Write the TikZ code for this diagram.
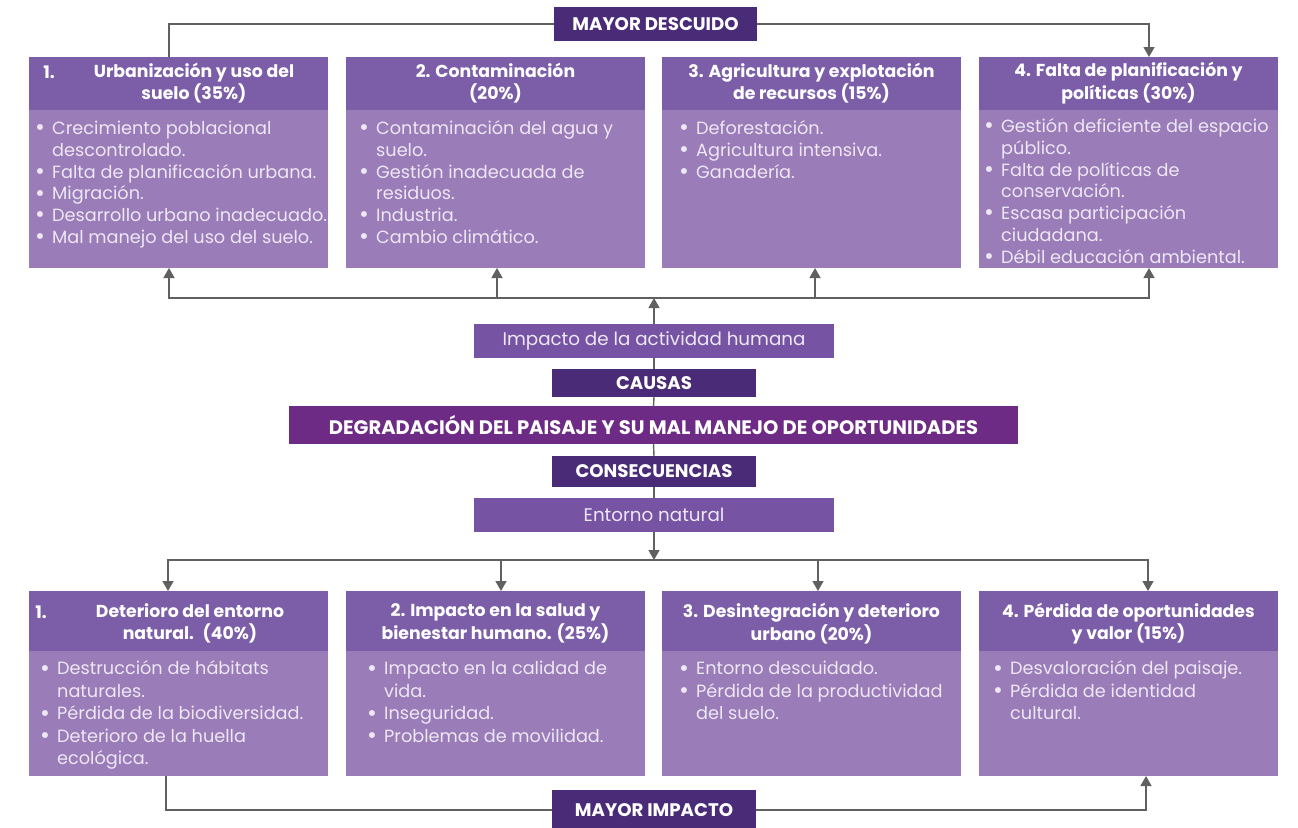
\documentclass[tikz,border=0pt]{standalone}
\usepackage{fontspec}
\setmainfont{Poppins}
\usepackage{graphicx}
\usetikzlibrary{arrows.meta,calc}
\definecolor{hdr}{HTML}{7B5EA7}
\definecolor{bod}{HTML}{9A7CB8}
\definecolor{darkp}{HTML}{4A2B78}
\definecolor{mainc}{HTML}{6E2B85}
\definecolor{midp}{HTML}{7654A3}
\definecolor{lnc}{HTML}{606060}
\definecolor{btxt}{HTML}{EEE7F4}
\newcommand\blist[1]{\begin{tabular}{@{}p{17pt}@{}l@{}}#1\end{tabular}}
\newcommand\bb{{\fontsize{24}{0}\selectfont\raisebox{-1.2pt}{\textbullet}}}
\begin{document}
\begin{tikzpicture}[x=1pt,y=-1pt,
  boxs/.style={rectangle,draw=none,inner sep=0pt,outer sep=0pt},
  hdrbox/.style={boxs,fill=hdr,minimum width=299pt,anchor=north west},
  bodbox/.style={boxs,fill=bod,minimum width=299pt,anchor=north west},
  htext/.style={inner sep=0pt,align=center,text=white,font=\fontsize{17.3}{22.5}\selectfont\bfseries},
  ttop/.style={inner sep=0pt,anchor=north west,text=btxt,font=\fontsize{17.7}{21.8}\selectfont},
  tbot/.style={inner sep=0pt,anchor=north west,text=btxt,font=\fontsize{17.7}{22.5}\selectfont},
  darkbox/.style={boxs,fill=darkp,text=white,font=\fontsize{18.2}{20}\selectfont\bfseries},
  midbox/.style={boxs,fill=midp,text=btxt,font=\fontsize{18.3}{20}\selectfont},
  lnk/.style={draw=lnc,line width=1.4pt},
  arr/.style={lnk,-{Triangle[width=11pt,length=10pt]}}]
\useasboundingbox (0,0) rectangle (1298,827);

% ---------- top boxes ----------
\node[hdrbox,minimum height=53pt] (h1) at (29,57) {};
\node[hdrbox,minimum height=53pt] (h2) at (346,57) {};
\node[hdrbox,minimum height=53pt] (h3) at (662,57) {};
\node[hdrbox,minimum height=53pt] (h4) at (979,57) {};
\node[bodbox,minimum height=158pt] (b1) at (29,110) {};
\node[bodbox,minimum height=158pt] (b2) at (346,110) {};
\node[bodbox,minimum height=158pt] (b3) at (662,110) {};
\node[bodbox,minimum height=158pt] (b4) at (979,110) {};

\node[htext] (n1) at (49,72) {1.};
\node[htext] (ht1) at (194,83) {Urbanización y uso del\\suelo (35\%)};
\node[htext] (ht2) at (495.5,83) {2. Contaminación\\(20\%)};
\node[htext] (ht3) at (811.5,83) {3. Agricultura y explotación\\de recursos (15\%)};
\node[htext] (ht4) at (1128.5,83) {4. Falta de planificación y\\políticas (30\%)};

\node[ttop] (bt1) at (35,119) {\blist{\bb & Crecimiento poblacional\\ & descontrolado.\\ \bb & Falta de planificación urbana.\\ \bb & Migración.\\ \bb & Desarrollo urbano inadecuado.\\ \bb & Mal manejo del uso del suelo.}};
\node[ttop] (bt2) at (359,119) {\blist{\bb & Contaminación del agua y\\ & suelo.\\ \bb & Gestión inadecuada de\\ & residuos.\\ \bb & Industria.\\ \bb & Cambio climático.}};
\node[ttop] (bt3) at (679,119) {\blist{\bb & Deforestación.\\ \bb & Agricultura intensiva.\\ \bb & Ganadería.}};
\node[ttop] (bt4) at (984,117) {\blist{\bb & Gestión deficiente del espacio\\ & público.\\ \bb & Falta de políticas de\\ & conservación.\\ \bb & Escasa participación\\ & ciudadana.\\ \bb & Débil educación ambiental.}};

% ---------- central column ----------
\node[darkbox,minimum width=203pt,minimum height=34pt] (desc) at (655.5,24) {MAYOR DESCUIDO};
\node[midbox,minimum width=360pt,minimum height=34pt] (imp) at (654,341) {Impacto de la actividad humana};
\node[darkbox,minimum width=204pt,minimum height=28pt] (caus) at (654,383) {CAUSAS};
\node[boxs,fill=mainc,text=white,font=\fontsize{19.5}{21}\selectfont\bfseries,minimum width=729pt,minimum height=38pt] (deg) at (653.5,425) {DEGRADACIÓN DEL PAISAJE Y SU MAL MANEJO DE OPORTUNIDADES};
\node[darkbox,minimum width=204pt,minimum height=31pt] (cons) at (654,471.5) {CONSECUENCIAS};
\node[midbox,minimum width=360pt,minimum height=34pt] (ent) at (654,515) {Entorno natural};
\node[darkbox,minimum width=204pt,minimum height=40pt] (mimp) at (654,810) {MAYOR IMPACTO};

% ---------- bottom boxes ----------
\node[hdrbox,minimum height=60pt] (c1) at (29,591) {};
\node[hdrbox,minimum height=60pt] (c2) at (346,591) {};
\node[hdrbox,minimum height=60pt] (c3) at (662,591) {};
\node[hdrbox,minimum height=60pt] (c4) at (979,591) {};
\node[bodbox,minimum height=125pt] (d1) at (29,651) {};
\node[bodbox,minimum height=125pt] (d2) at (346,651) {};
\node[bodbox,minimum height=125pt] (d3) at (662,651) {};
\node[bodbox,minimum height=125pt] (d4) at (979,651) {};

\node[htext] (m1) at (41,612) {1.};
\node[htext] (ct1) at (190,623.5) {Deterioro del entorno\\natural.~ (40\%)};
\node[htext] (ct2) at (495.5,623.5) {2. Impacto en la salud y\\bienestar humano. (25\%)};
\node[htext] (ct3) at (811.5,623.5) {3. Desintegración y deterioro\\urbano (20\%)};
\node[htext] (ct4) at (1128.5,623.5) {4. Pérdida de oportunidades\\y valor (15\%)};

\node[tbot] (dt1) at (40,659) {\blist{\bb & Destrucción de hábitats\\ & naturales.\\ \bb & Pérdida de la biodiversidad.\\ \bb & Deterioro de la huella\\ & ecológica.}};
\node[tbot] (dt2) at (367,659) {\blist{\bb & Impacto en la calidad de\\ & vida.\\ \bb & Inseguridad.\\ \bb & Problemas de movilidad.}};
\node[tbot] (dt3) at (679,659) {\blist{\bb & Entorno descuidado.\\ \bb & Pérdida de la productividad\\ & del suelo.}};
\node[tbot] (dt4) at (993,659) {\blist{\bb & Desvaloración del paisaje.\\ \bb & Pérdida de identidad\\ & cultural.}};

% ---------- connectors ----------
\draw[lnk] ([xshift=140pt]h1.north west) |- (desc.west);
\draw[arr] (desc.east) -| ([xshift=170pt]h4.north west);

\coordinate (cl) at (654,298);
\draw[arr] (imp.north) -- (cl);
\draw[arr] (cl) -| ([xshift=140pt]b1.south west);
\draw[arr] (cl) -| ([xshift=151pt]b2.south west);
\draw[arr] (cl) -| ([xshift=153pt]b3.south west);
\draw[arr] (cl) -| ([xshift=170pt]b4.south west);

\draw[lnk] (caus.north) -- (imp.south);
\draw[lnk] (deg.north) -- (caus.south);
\draw[lnk] (cons.north) -- (deg.south);
\draw[lnk] (ent.north) -- (cons.south);

\coordinate (cl2) at (654,560);
\draw[arr] (ent.south) -- (cl2);
\draw[arr] (cl2) -| ([xshift=139pt]c1.north west);
\draw[arr] (cl2) -| ([xshift=155pt]c2.north west);
\draw[arr] (cl2) -| ([xshift=156pt]c3.north west);
\draw[arr] (cl2) -| ([xshift=169pt]c4.north west);

\draw[lnk] ([xshift=137pt]d1.south west) |- (mimp.west);
\draw[arr] (mimp.east) -| ([xshift=167pt]d4.south west);
\end{tikzpicture}
\end{document}
